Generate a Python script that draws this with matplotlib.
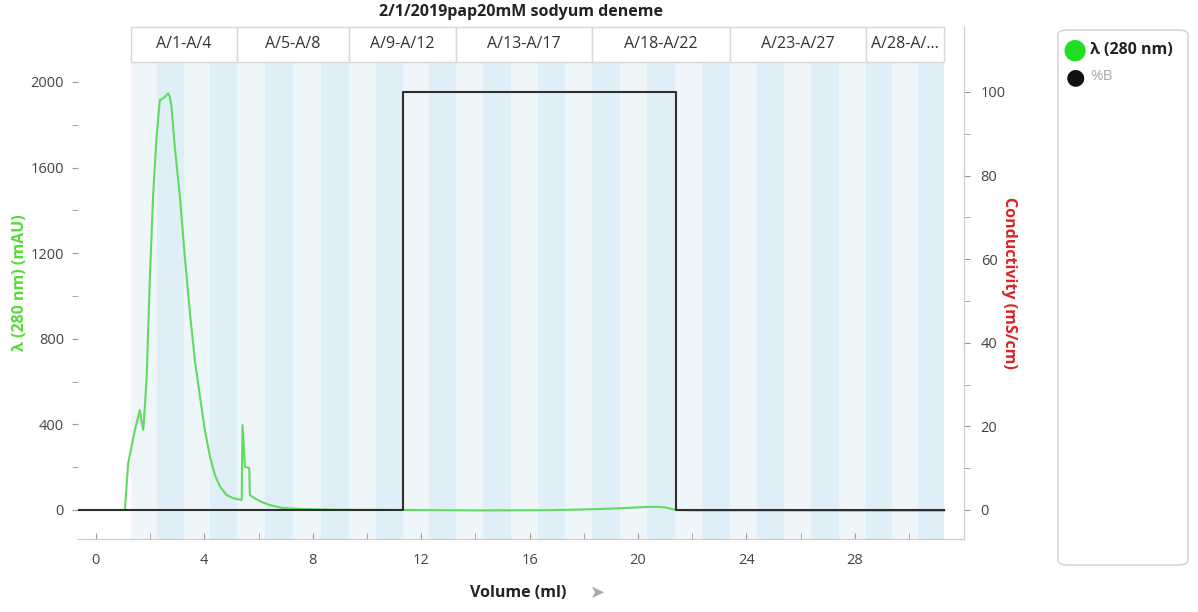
import matplotlib
matplotlib.use("Agg")
import matplotlib.pyplot as plt
from matplotlib.patches import Rectangle, FancyBboxPatch
from matplotlib.ticker import FixedLocator

plt.rcParams['font.family'] = ['Open Sans', 'DejaVu Sans']

# UV 280 nm trace (ml, mAU)
volume_uv = [-0.7, 1.07, 1.19, 1.44, 1.62, 1.68, 1.75, 1.87, 1.99, 2.11, 2.24, 2.36,
             2.5, 2.67, 2.73, 2.79, 2.91, 3.1, 3.28, 3.47, 3.65, 3.84, 4.02, 4.21,
             4.39, 4.58, 4.82, 5.07, 5.38, 5.41, 5.5, 5.66, 5.68, 5.8, 6.1, 6.42,
             6.9, 7.5, 8.1, 9.0, 11.4, 14.0, 16.6, 17.5, 18.5, 19.5, 20.3, 20.7,
             21.0, 21.4, 22.0, 25.0, 28.0, 31.3]
uv_mau = [0, 0, 218, 374, 467, 420, 374, 607, 1075, 1464, 1745, 1916,
          1925, 1947, 1930, 1885, 1698, 1464, 1184, 920, 701, 530, 374, 249,
          164, 109, 70, 55, 47, 397, 202, 196, 70, 59, 38, 23,
          9, 5, 3, 1, 0, -2, -1, 1, 4, 9, 14, 15,
          12, 0, -2, -2, -3, -3]

# %B step gradient
volume_b = [-0.7, 11.33, 11.33, 21.4, 21.4, 31.3]
percent_b = [0, 0, 100, 100, 0, 0]

# fraction groups shown in the header
group_labels = ["A/1-A/4", "A/5-A/8", "A/9-A/12", "A/13-A/17", "A/18-A/22", "A/23-A/27", "A/28-A/..."]
group_edges = [1.29, 5.2, 9.33, 13.3, 18.3, 23.4, 28.4, 31.3]
group_counts = [4, 4, 4, 5, 5, 5, 3]

x_major = [0, 4, 8, 12, 16, 20, 24, 28]
x_minor = [2, 6, 10, 14, 18, 22, 26, 30]
uv_major = [0, 400, 800, 1200, 1600, 2000]
uv_minor = [200, 600, 1000, 1400, 1800]
cond_major = [0, 20, 40, 60, 80, 100]
cond_minor = [10, 30, 50, 70, 90]

fig = plt.figure(figsize=(11.98, 6.12), dpi=100)
ax = fig.add_axes([0.0651, 0.1193, 0.7396, 0.8366])
ax2 = ax.twinx()

ax.set_xlim(-0.66, 32.03)
ax.set_ylim(-135.5, 2257)
ax2.set_ylim(-6.94, 115.55)

# fraction stripes
k = 0
for i, n in enumerate(group_counts):
    a, b = group_edges[i], group_edges[i + 1]
    w = (b - a) / n
    for j in range(n):
        col = '#eef6fa' if k % 2 == 0 else '#e0eff7'
        ax.add_patch(Rectangle((a + j * w, 0), w, 0.932, transform=ax.get_xaxis_transform(),
                               facecolor=col, edgecolor='none', zorder=0))
        k += 1

# header boxes
for i, lab in enumerate(group_labels):
    a, b = group_edges[i], group_edges[i + 1]
    ax.add_patch(Rectangle((a, 0.932), b - a, 0.068, transform=ax.get_xaxis_transform(),
                           facecolor='white', edgecolor='#d8d8d8', lw=1, zorder=1, clip_on=False))
    ax.text((a + b) / 2, 0.966, lab, transform=ax.get_xaxis_transform(), ha='center', va='center',
            fontsize=11.5, color='#333333', zorder=2)

ax.plot(volume_uv, uv_mau, color='#5fdc5f', lw=1.5, zorder=3)
ax2.plot(volume_b, percent_b, color='#2f2f2f', lw=1.5, zorder=4)
ax2.set_zorder(ax.get_zorder() + 1)
ax2.patch.set_visible(False)

ax.xaxis.set_major_locator(FixedLocator(x_major))
ax.xaxis.set_minor_locator(FixedLocator(x_minor))
ax.yaxis.set_major_locator(FixedLocator(uv_major))
ax.yaxis.set_minor_locator(FixedLocator(uv_minor))
ax2.yaxis.set_major_locator(FixedLocator(cond_major))
ax2.yaxis.set_minor_locator(FixedLocator(cond_minor))

ax.tick_params(axis='x', which='both', direction='in', length=4, color='#999999',
               labelsize=10.5, labelcolor='#444444', pad=10)
ax.tick_params(axis='y', which='both', direction='out', length=4, color='#999999',
               labelsize=10.5, labelcolor='#444444', pad=6)
ax2.tick_params(axis='y', which='both', direction='out', length=4, color='#999999',
                labelsize=10.5, labelcolor='#444444', pad=8)

for a_ in (ax, ax2):
    a_.spines['top'].set_visible(False)
    a_.spines['left'].set_visible(False)
    a_.spines['bottom'].set_color('#cccccc')
    a_.spines['right'].set_color('#cccccc')

ax.set_ylabel('λ (280 nm) (mAU)', color='#55dd33', fontweight='bold', fontsize=11.5, labelpad=2)
ax2.set_ylabel('Conductivity (mS/cm)', color='#dd2222', fontweight='bold', fontsize=11.5,
               rotation=270, labelpad=8)
ax.set_title('2/1/2019pap20mM sodyum deneme', fontweight='bold', fontsize=11.5, color='#222222', pad=8)

fig.text(0.4325, 0.031, 'Volume (ml)', fontweight='bold', fontsize=11.5, color='#222222', ha='center', va='center')
fig.text(0.499, 0.031, '➤', fontsize=13, color='#aaaaaa', ha='center', va='center', family='DejaVu Sans')

# legend panel
fig.patches.append(FancyBboxPatch((1058 / 1198, 1 - 565 / 612), 130 / 1198, 535 / 612,
                                  boxstyle='round,pad=0,rounding_size=0.008', transform=fig.transFigure,
                                  facecolor='white', edgecolor='#d0d0d0', lw=1))
fig.text(1075 / 1198, 1 - 50 / 612, '●', color='#22dd22', fontsize=20, ha='center', va='center', family='DejaVu Sans')
fig.text(1090 / 1198, 1 - 50 / 612, 'λ (280 nm)', color='#222222', fontsize=11.5, fontweight='bold', va='center')
fig.text(1075 / 1198, 1 - 77 / 612, '●', color='#111111', fontsize=16, ha='center', va='center', family='DejaVu Sans')
fig.text(1090 / 1198, 1 - 77 / 612, '%B', color='#aaaaaa', fontsize=11, va='center')

fig.savefig('out.png', dpi=100)
